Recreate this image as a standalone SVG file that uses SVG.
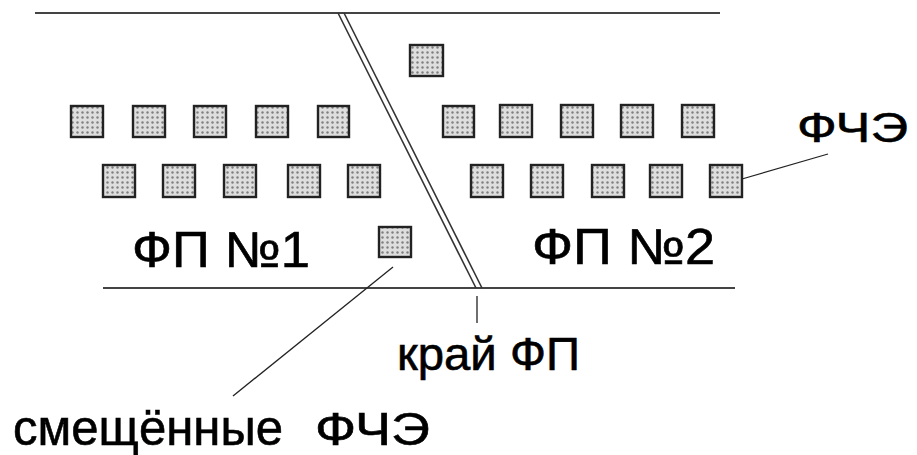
<svg xmlns="http://www.w3.org/2000/svg" width="917" height="455" viewBox="0 0 917 455">
  <defs>
    <pattern id="dots" width="5" height="5" patternUnits="userSpaceOnUse">
      <rect width="5" height="5" fill="#dedede"/>
      <circle cx="2.5" cy="2.5" r="1.2" fill="#808080"/>
    </pattern>
  </defs>
  <style>
    .bg { fill: #ffffff; }
    .edge { stroke: #444; stroke-width: 2; fill: none; }
    .diag { stroke: #333; stroke-width: 1.6; fill: none; }
    .lead { stroke: #222; stroke-width: 1.3; fill: none; }
    .el { fill: url(#dots); stroke: #222; stroke-width: 2.4; }
    .t { font-family: "Liberation Sans", Arial, sans-serif; fill: #000; stroke: #000; stroke-width: 0.6; }
  </style>
  <rect class="bg" x="0" y="0" width="917" height="455"/>

  <g id="boundaries">
    <line class="edge" x1="35" y1="13" x2="720" y2="13"/>
    <line class="edge" x1="103" y1="288" x2="735" y2="288"/>
  </g>

  <g id="fp-edge">
    <line class="diag" x1="338" y1="13" x2="476" y2="288"/>
    <line class="diag" x1="344" y1="13" x2="482" y2="288"/>
  </g>

  <g id="elements-fp1">
    <rect class="el" x="71" y="106" width="32" height="31"/>
    <rect class="el" x="133" y="106" width="32" height="31"/>
    <rect class="el" x="194" y="106" width="32" height="31"/>
    <rect class="el" x="256" y="106" width="32" height="31"/>
    <rect class="el" x="318" y="106" width="31" height="31"/>
    <rect class="el" x="103" y="165" width="32" height="32"/>
    <rect class="el" x="163" y="165" width="32" height="32"/>
    <rect class="el" x="224" y="165" width="32" height="32"/>
    <rect class="el" x="288" y="165" width="32" height="32"/>
    <rect class="el" x="348" y="165" width="32" height="32"/>
  </g>

  <g id="elements-fp2">
    <rect class="el" x="443" y="106" width="31" height="31"/>
    <rect class="el" x="500" y="105" width="32" height="32"/>
    <rect class="el" x="561" y="105" width="32" height="32"/>
    <rect class="el" x="621" y="105" width="32" height="32"/>
    <rect class="el" x="682" y="105" width="32" height="32"/>
    <rect class="el" x="471" y="165" width="32" height="32"/>
    <rect class="el" x="531" y="165" width="32" height="32"/>
    <rect class="el" x="592" y="165" width="32" height="32"/>
    <rect class="el" x="650" y="165" width="32" height="32"/>
    <rect class="el" x="710" y="165" width="32" height="32"/>
  </g>

  <g id="shifted-elements">
    <rect class="el" x="410" y="45" width="33" height="31"/>
    <rect class="el" x="379" y="227" width="32" height="30"/>
  </g>

  <g id="connectors">
    <line class="lead" x1="742" y1="179" x2="828" y2="154"/>
    <line class="lead" x1="393" y1="267" x2="233" y2="396"/>
    <line class="lead" x1="477" y1="296" x2="477" y2="323"/>
  </g>

  <g id="label-fchE">
    <text class="t" x="797" y="142" font-size="42" textLength="111" lengthAdjust="spacingAndGlyphs">ФЧЭ</text>
  </g>
  <g id="label-fp1">
    <text class="t" x="132" y="267" font-size="50" textLength="178" lengthAdjust="spacingAndGlyphs">ФП №1</text>
  </g>
  <g id="label-fp2">
    <text class="t" x="532" y="264" font-size="50" textLength="183" lengthAdjust="spacingAndGlyphs">ФП №2</text>
  </g>
  <g id="label-edge">
    <text class="t" x="397" y="370" font-size="47" textLength="183" lengthAdjust="spacingAndGlyphs">край ФП</text>
  </g>
  <g id="label-shifted">
    <text class="t" x="13" y="445" font-size="50" textLength="270" lengthAdjust="spacingAndGlyphs">смещённые</text>
    <text class="t" x="315" y="445" font-size="46" textLength="115" lengthAdjust="spacingAndGlyphs">ФЧЭ</text>
  </g>
</svg>
